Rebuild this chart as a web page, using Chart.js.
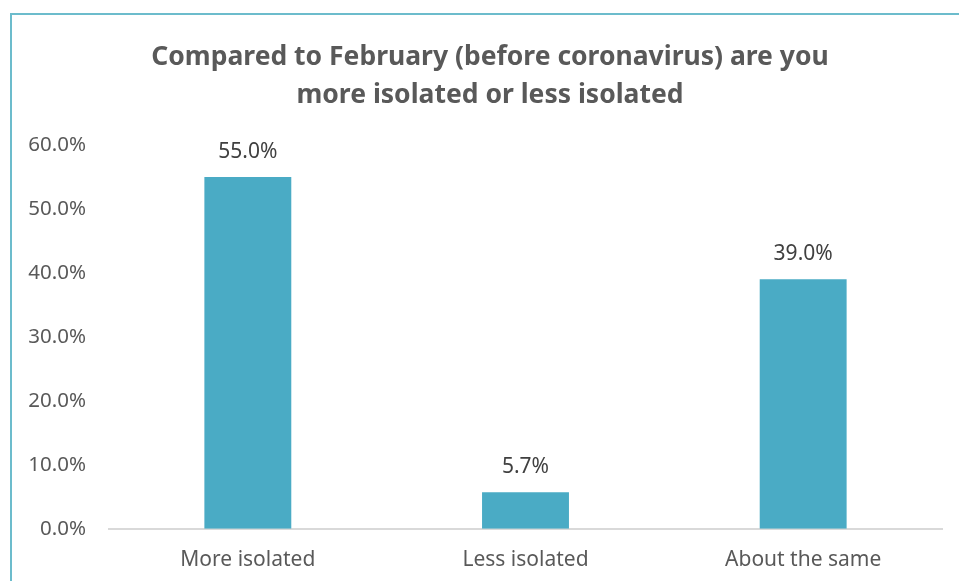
<!DOCTYPE html>
<html>
<head>
<meta charset="utf-8">
<script src="https://cdn.jsdelivr.net/npm/chart.js@4.4.0/dist/chart.umd.min.js"></script>
<style>
  html, body { margin: 0; padding: 0; background: #fff; overflow: hidden; }
  #frame {
    position: absolute; left: 10px; top: 13px; width: 1000px; height: 620px;
    border-left: 2px solid #6cbccc; border-top: 2px solid #6cbccc;
  }
  #chart { position: absolute; left: 10px; top: 13px; }
</style>
</head>
<body>
<div id="frame"></div>
<canvas id="chart" width="960" height="579"></canvas>
<script>
// survey answers, share of respondents in %
const categories = ['More isolated', 'Less isolated', 'About the same'];
const shares = [55.0, 5.7, 39.0];
const titleLines = ['Compared to February (before coronavirus) are you', 'more isolated or less isolated'];
const yMax = 60;
const yStep = 10;

const FONT = "'Noto Sans', 'Open Sans', sans-serif";

// value labels above each bar
const barLabels = {
    id: 'barLabels',
    afterDatasetsDraw(chart) {
        const ctx = chart.ctx;
        const meta = chart.getDatasetMeta(0);
        ctx.save();
        ctx.font = '21px ' + FONT;
        ctx.fillStyle = '#404040';
        ctx.textAlign = 'center';
        ctx.textBaseline = 'middle';
        meta.data.forEach((bar, i) => {
            ctx.fillText(shares[i].toFixed(1) + '%', bar.x, bar.y - 25);
        });
        ctx.restore();
    }
};

new Chart(document.getElementById('chart').getContext('2d'), {
    type: 'bar',
    data: {
        labels: categories,
        datasets: [{
            data: shares,
            backgroundColor: '#4aabc5',
            barPercentage: 0.313,
            categoryPercentage: 1
        }]
    },
    options: {
        responsive: false,
        animation: false,
        layout: { padding: 0 },
        plugins: {
            legend: { display: false },
            tooltip: { enabled: false },
            title: {
                display: true,
                text: titleLines,
                color: '#595959',
                font: { family: FONT, size: 26.5, weight: 'bold', lineHeight: 1.434 },
                padding: { top: 25, bottom: 31 }
            }
        },
        scales: {
            x: {
                grid: { display: false, drawTicks: false },
                border: { display: true, color: '#d9d9d9', width: 2 },
                ticks: { color: '#595959', font: { family: FONT, size: 21 }, padding: 19 }
            },
            y: {
                min: 0,
                max: yMax,
                grid: { display: false, drawTicks: false },
                border: { display: false },
                afterFit(scale) { scale.width = 99; },
                ticks: {
                    stepSize: yStep,
                    color: '#595959',
                    font: { family: FONT, size: 20.5 },
                    padding: 23,
                    callback: v => v.toFixed(1) + '%'
                }
            },
            // empty right-hand gutter so the plot ends short of the frame edge
            gutter: {
                position: 'right',
                min: 0,
                max: yMax,
                grid: { display: false, drawTicks: false },
                border: { display: false },
                ticks: { display: false },
                afterFit(scale) { scale.width = 28; }
            }
        }
    },
    plugins: [barLabels]
});
</script>
</body>
</html>
